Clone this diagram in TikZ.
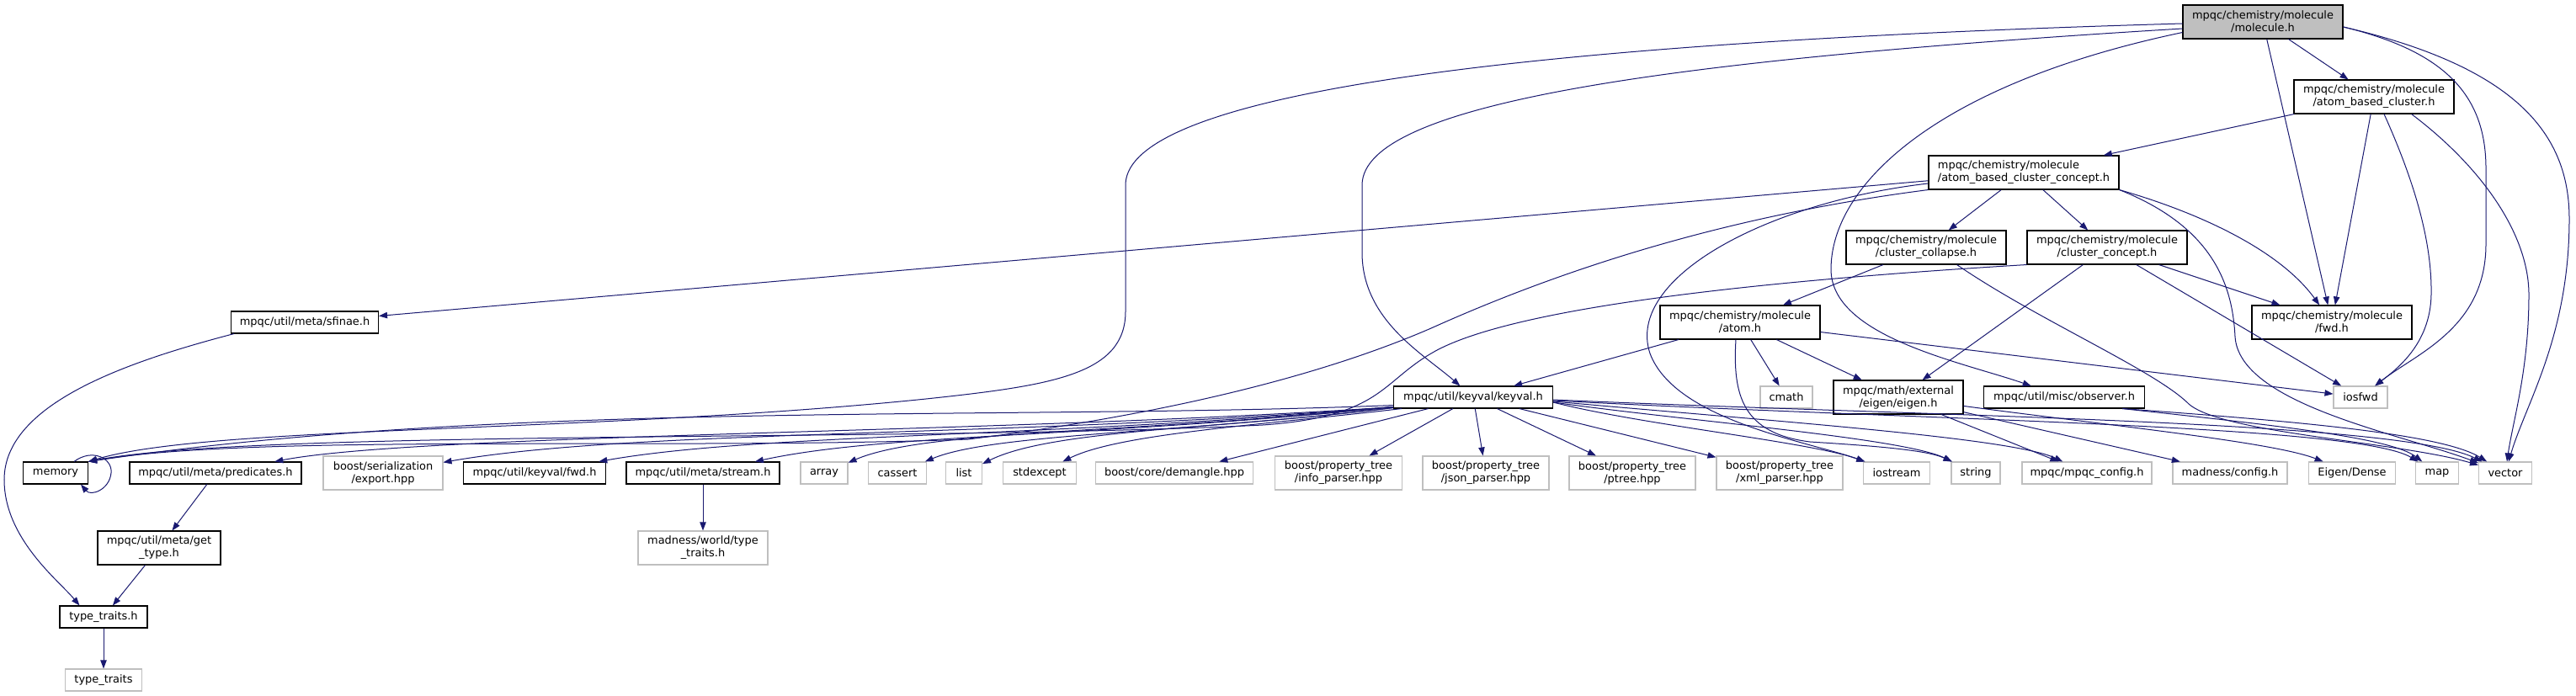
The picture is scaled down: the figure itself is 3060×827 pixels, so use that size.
\documentclass[tikz,border=0pt]{standalone}
\usepackage{fontspec}
\setmainfont{DejaVu Sans}
\usetikzlibrary{arrows.meta,calc}
\definecolor{edgec}{RGB}{25,25,112}
\definecolor{gbord}{RGB}{191,191,191}
\definecolor{gfill}{RGB}{191,191,191}
\begin{document}
\begin{tikzpicture}[x=0.75pt,y=-0.75pt,
  bx/.style={draw=black, line width=0.8pt, fill=white, inner sep=0pt, align=center, font=\fontsize{9.7}{11.25}\selectfont},
  gx/.style={bx, draw=gbord},
  sz/.style 2 args={minimum width={#1*0.75pt}, minimum height={#2*0.75pt}},
  ed/.style={draw=edgec, line width=0.75pt, -{Triangle[length=7.5pt,width=5.5pt]}}]
\useasboundingbox[fill=white] (0,0) rectangle (3060,827);

% nodes
\node[bx, sz={190}{40}, fill=gfill] (mol) at (2688,26) {mpqc/chemistry/molecule\\/molecule.h};
\node[bx, sz={190}{40}] (abc) at (2820,115) {mpqc/chemistry/molecule\\/atom\_based\_cluster.h};
\node[bx, sz={226}{40}, align=left] (abcc) at (2404,205) {mpqc/chemistry/molecule\\/atom\_based\_cluster\_concept.h};
\node[bx, sz={190}{40}] (ccol) at (2288,294) {mpqc/chemistry/molecule\\/cluster\_collapse.h};
\node[bx, sz={190}{40}] (ccon) at (2503,294) {mpqc/chemistry/molecule\\/cluster\_concept.h};
\node[bx, sz={190}{40}] (fwd) at (2770,383) {mpqc/chemistry/molecule\\/fwd.h};
\node[bx, sz={190}{40}] (atom) at (2067,383) {mpqc/chemistry/molecule\\/atom.h};
\node[bx, sz={175}{26}] (sfinae) at (362,383) {mpqc/util/meta/sfinae.h};
\node[bx, sz={189}{26}] (keyval) at (1750,472) {mpqc/util/keyval/keyval.h};
\node[gx, sz={62}{26}] (cmath) at (2122,472) {cmath};
\node[bx, sz={154}{40}] (eigen) at (2255,472) {mpqc/math/external\\/eigen/eigen.h};
\node[bx, sz={191}{26}] (obs) at (2452,472) {mpqc/util/misc/observer.h};
\node[gx, sz={64}{26}] (iosfwd) at (2804,472) {iosfwd};

\node[bx, sz={77}{26}] (memory) at (66,562) {memory};
\node[bx, sz={204}{26}] (pred) at (256,562) {mpqc/util/meta/predicates.h};
\node[gx, sz={142}{40}] (export) at (455,562) {boost/serialization\\/export.hpp};
\node[bx, sz={169}{26}] (kvfwd) at (635,562) {mpqc/util/keyval/fwd.h};
\node[bx, sz={182}{26}] (stream) at (835,562) {mpqc/util/meta/stream.h};
\node[gx, sz={56}{26}] (array) at (979,562) {array};
\node[gx, sz={69}{26}] (cassert) at (1066,562) {cassert};
\node[gx, sz={43}{26}] (list) at (1145,562) {list};
\node[gx, sz={87}{26}] (stdexc) at (1235,562) {stdexcept};
\node[gx, sz={187}{26}] (demangle) at (1395,562) {boost/core/demangle.hpp};
\node[gx, sz={151}{40}] (info) at (1590,562) {boost/property\_tree\\/info\_parser.hpp};
\node[gx, sz={150}{40}] (json) at (1765,562) {boost/property\_tree\\/json\_parser.hpp};
\node[gx, sz={150}{40}] (ptree) at (1939,562) {boost/property\_tree\\/ptree.hpp};
\node[gx, sz={150}{40}] (xml) at (2114,562) {boost/property\_tree\\/xml\_parser.hpp};
\node[gx, sz={79}{26}] (iostream) at (2253,562) {iostream};
\node[gx, sz={58}{26}] (string) at (2347,562) {string};
\node[gx, sz={154}{26}] (config) at (2479,562) {mpqc/mpqc\_config.h};
\node[gx, sz={136}{26}] (madcfg) at (2649,562) {madness/config.h};
\node[gx, sz={103}{26}] (dense) at (2794,562) {Eigen/Dense};
\node[gx, sz={51}{26}] (map) at (2895,562) {map};
\node[gx, sz={63}{26}] (vector) at (2976,562) {vector};

\node[bx, sz={146}{40}] (gettype) at (189,651) {mpqc/util/meta/get\\\_type.h};
\node[gx, sz={154}{40}] (mwtt) at (835,651) {madness/world/type\\\_traits.h};
\node[bx, sz={104}{26}] (tth) at (123,733) {type\_traits.h};
\node[gx, sz={91}{26}] (tt) at (123,808) {type\_traits};

% straight edges
\draw[ed] (mol) -- (abc);
\draw[ed] (mol) -- (fwd);
\draw[ed] (abc) -- (fwd);
\draw[ed] (abc) -- (abcc);
\draw[ed] (abcc) -- (ccol);
\draw[ed] (abcc) -- (ccon);
\draw[ed] (abcc) -- (sfinae);
\draw[ed] (ccol) -- (atom);
\draw[ed] (ccon) -- (fwd);
\draw[ed] (ccon) -- (eigen);
\draw[ed] (ccon) -- (iosfwd);
\draw[ed] (atom) -- (keyval);
\draw[ed] (atom) -- (cmath);
\draw[ed] (atom) -- (eigen);
\draw[ed] (atom) -- (iosfwd);
\draw[ed] (eigen) -- (config);
\draw[ed] (eigen) -- (madcfg);
\draw[ed] (eigen) .. controls (2500,505) and (2700,525) .. (dense);
\draw[ed] (keyval) -- (demangle);
\draw[ed] (keyval) -- (info);
\draw[ed] (keyval) -- (json);
\draw[ed] (keyval) -- (ptree);
\draw[ed] (keyval) -- (xml);
\draw[ed] (pred) -- (gettype);
\draw[ed] (gettype) -- (tth);
\draw[ed] (tth) -- (tt);
\draw[ed] (stream) -- (mwtt);

% curved edges from molecule.h
\draw[ed] ($(mol.west)+(0,2)$) .. controls (2000,45) and (1337,90) .. (1337,220) -- (1337,370) .. controls (1337,445) and (1250,458) .. (1100,474) .. controls (700,515) and (250,505) .. (memory.north east);
\draw[ed] ($(mol.west)+(0,8)$) .. controls (2000,70) and (1618,120) .. (1618,220) -- (1618,300) .. controls (1618,380) and (1690,420) .. (keyval);
\draw[ed] ($(mol.south west)+(0,-8)$) .. controls (2300,100) and (2175,220) .. (2175,320) .. controls (2175,400) and (2330,430) .. (obs);
\draw[ed] ($(mol.east)+(0,6)$) .. controls (2900,60) and (2953,110) .. (2953,200) -- (2953,290) .. controls (2953,390) and (2870,420) .. (iosfwd);
\draw[ed] ($(mol.east)+(0,6)$) .. controls (2990,80) and (3052,160) .. (3052,260) .. controls (3052,400) and (3000,480) .. (vector);

% atom_based_cluster.h
\draw[ed] ($(abc.south)+(12,0)$) .. controls (2870,220) and (2889,290) .. (2888,350) .. controls (2887,410) and (2845,440) .. (iosfwd);
\draw[ed] ($(abc.south east)+(-51,0)$) .. controls (2950,200) and (3004,280) .. (3004,350) .. controls (3004,440) and (2985,500) .. (vector);

% atom_based_cluster_concept.h
\draw[ed] (abcc.south east) .. controls (2620,255) and (2710,300) .. (fwd);
\draw[ed] (abcc.south east) .. controls (2630,270) and (2652,340) .. (2655,400) .. controls (2660,480) and (2850,515) .. (vector);
\draw[ed] ($(abcc.west)+(0,13)$) .. controls (2100,240) and (1930,330) .. (1960,420) .. controls (1990,500) and (2150,525) .. (iostream);
\draw[ed] (abcc.south west) .. controls (2100,250) and (1900,300) .. (1700,390) .. controls (1550,455) and (1350,497) .. (1150,522) .. controls (800,535) and (300,515) .. (memory.north east);

% cluster_concept.h, cluster_collapse.h
\draw[ed] (ccon.south west) .. controls (2150,330) and (1800,360) .. (1700,420) .. controls (1640,455) and (1640,495) .. (1500,505) .. controls (1100,525) and (300,510) .. (memory.north east);
\draw[ed] ($(ccol.south east)+(-59,0)$) .. controls (2420,380) and (2560,440) .. (2600,480) .. controls (2640,515) and (2850,525) .. (vector);

% atom.h
\draw[ed] ($(atom.south)+(-5,0)$) .. controls (2058,470) and (2070,515) .. (2150,525) .. controls (2230,530) and (2290,535) .. (string);

% observer.h
\draw[ed] ($(obs.south east)+(-27,0)$) .. controls (2700,505) and (2840,520) .. (map);
\draw[ed] ($(obs.south east)+(-27,0)$) .. controls (2720,500) and (2900,515) .. (vector);

% keyval.h
\draw[ed] ($(keyval.south west)+(0,-4)$) .. controls (1200,500) and (600,475) .. (memory.north east);
\draw[ed] ($(keyval.south west)+(0,-2)$) .. controls (1200,515) and (500,515) .. (pred);
\draw[ed] ($(keyval.south west)+(0,-2)$) .. controls (1200,520) and (750,510) .. (export);
\draw[ed] ($(keyval.south west)+(0,-2)$) .. controls (1250,520) and (900,515) .. (kvfwd);
\draw[ed] ($(keyval.south west)+(0,-2)$) .. controls (1300,520) and (1050,515) .. (stream);
\draw[ed] ($(keyval.south west)+(0,-2)$) .. controls (1350,515) and (1100,510) .. (array);
\draw[ed] ($(keyval.south west)+(0,-1)$) .. controls (1400,515) and (1180,515) .. (cassert);
\draw[ed] ($(keyval.south west)+(0,-1)$) .. controls (1450,510) and (1250,510) .. (list);
\draw[ed] ($(keyval.south west)+(10,0)$) .. controls (1500,505) and (1330,515) .. (stdexc);
\draw[ed] ($(keyval.east)+(0,6)$) .. controls (1950,505) and (2150,525) .. (iostream);
\draw[ed] ($(keyval.east)+(0,6)$) .. controls (2000,500) and (2260,520) .. (string);
\draw[ed] ($(keyval.east)+(0,5)$) .. controls (2100,500) and (2390,520) .. (config);
\draw[ed] ($(keyval.east)+(0,4)$) .. controls (2300,500) and (2800,505) .. (map);
\draw[ed] ($(keyval.east)+(0,3)$) .. controls (2300,495) and (2850,500) .. (vector);

% sfinae.h
\draw[ed] ($(sfinae.south west)+(4,0)$) .. controls (150,430) and (5,480) .. (5,570) .. controls (5,640) and (70,690) .. ($(tth.north west)+(24,0)$);

% memory self loop
\draw[ed] ($(memory.north east)+(-17,0)$) .. controls (110,532) and (134,545) .. (132,562) .. controls (130,582) and (108,590) .. ($(memory.south east)+(-9,0)$);
\end{tikzpicture}
\end{document}
